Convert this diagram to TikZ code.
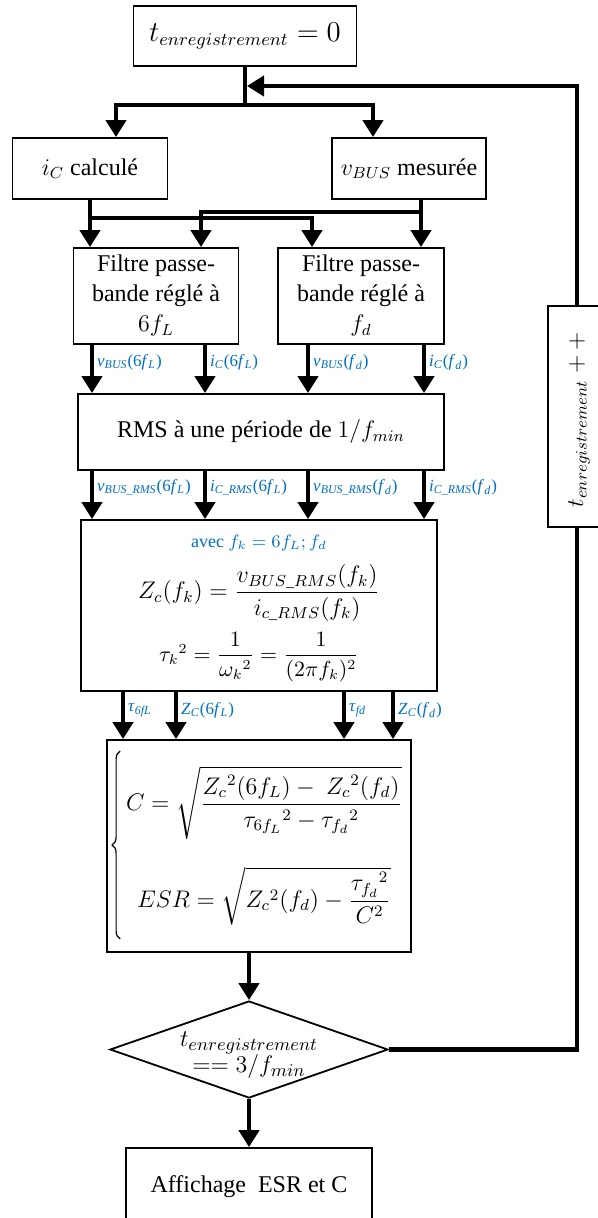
\documentclass[tikz,border=0pt]{standalone}
\usepackage{amsmath}
\usepackage{fontspec}
\setmainfont{Liberation Serif}
\usepackage{xcolor}
\definecolor{labelblue}{RGB}{0, 112, 192}
\usepackage{tikz}
\usetikzlibrary{arrows.meta, calc, shapes.geometric, decorations.pathreplacing}
\newcommand{\lsub}[1]{\textsubscript{\textit{#1}}}

\begin{document}
\begin{tikzpicture}[x=0.5pt, y=-0.5pt, >={Triangle[length=8.5pt, width=10pt]},
    box/.style={draw, line width=0.9pt, inner sep=0pt, align=center, font=\fontsize{12}{15}\selectfont},
    flow/.style={line width=2.2pt},
    lbl/.style={anchor=west, inner sep=0pt, xshift=1.5pt, text=labelblue, font=\fontsize{8.5}{10}\selectfont}]
    \clip (0,0) rectangle (598,1218);

    \node[box, minimum width=111.5pt, minimum height=30pt, font=\fontsize{13.5}{15}\selectfont] (start) at (245,36) {$t_{enregistrement} = 0$};
    \node[box, minimum width=77.5pt, minimum height=30.5pt] (ic) at (90,168.5) {$i_C$ calculé};
    \node[box, minimum width=77pt, minimum height=30.5pt] (vbus) at (409,168.5) {$v_{BUS}$ mesurée};
    \node[box, minimum width=82.5pt, minimum height=48pt] (filtL) at (156,296) {Filtre passe-\\bande réglé à\\$6f_L$};
    \node[box, minimum width=83pt, minimum height=48pt] (filtR) at (361,296) {Filtre passe-\\bande réglé à\\$f_d$};
    \node[box, minimum width=183pt, minimum height=38pt] (rms) at (261,432) {RMS à une période de $1/f_{min}$};
    \node[box, minimum width=178pt, minimum height=85.5pt] (zbox) at (259,605.5) {};
    \node[box, minimum width=152pt, minimum height=106pt] (esrbox) at (259,846) {};
    \node[diamond, draw, line width=0.9pt, inner sep=0pt, minimum width=139pt, minimum height=48.5pt] (cond) at (249,1049.5) {};
    \node[box, minimum width=123pt, minimum height=39pt] (final) at (249,1187) {Affichage~ ESR et C};
    \node[box, minimum width=29pt, minimum height=110.5pt] (loop) at (577,416.5) {};

    \node[text=labelblue, font=\fontsize{9}{11}\selectfont] (avec) at (259,543) {avec $f_k = 6f_L; f_d$};
    \node[font=\fontsize{12}{14}\selectfont] (zeq) at (259,593) {$Z_c(f_k) = \dfrac{v_{BUS\_RMS}(f_k)}{i_{c\_RMS}(f_k)}$};
    \node[font=\fontsize{10.5}{12}\selectfont] (taueq) at (259,657) {$\tau_k{}^2 = \dfrac{1}{\omega_k{}^2} = \dfrac{1}{(2\pi f_k)^2}$};
    \node[font=\fontsize{12}{14}\selectfont] (esreq) at (264,846) {$\begin{array}{@{}c@{}}
        C = \sqrt{\dfrac{Z_c{}^2(6f_L) - \ Z_c{}^2(f_d)}{\tau_{6f_L}{}^2 - \tau_{f_d}{}^2}}\\[24pt]
        ESR = \sqrt{Z_c{}^2(f_d) - \dfrac{\tau_{f_d}{}^2}{C^2}}
        \end{array}$};
    \draw[line width=0.6pt, decorate, decoration={brace, amplitude=4pt}]
        ($(esrbox.south west)+(14,-14)$) -- ($(esrbox.north west)+(14,12)$);
    \node[align=center, font=\fontsize{12.5}{13}\selectfont] (condtxt) at (249,1055) {$t_{enregistrement}$\\$== 3/f_{min}$};
    \node[rotate=90, font=\fontsize{12}{14}\selectfont] (looptxt) at (579,420) {$t_{enregistrement}\;{+}\,{+}$};

    \coordinate (junc) at (245,105);
    \coordinate (jin) at (247,86);
    \coordinate (icbus) at (90,218);
    \coordinate (vbusbus) at (421,212);

    \draw[flow] (start.south) -- (junc);
    \draw[flow, ->] (junc) -| ($(ic.north)+(26,0)$);
    \draw[flow, ->] (junc) -| ($(vbus.north)+(-36,0)$);
    \draw[flow, ->] (loop.north) |- (jin);
    \draw[flow, ->] (ic.south) -- (filtL.north -| ic.south);
    \draw[flow, ->] (icbus) -| ($(filtR.north)+(-49,0)$);
    \draw[flow, ->] (vbus.south -| vbusbus) -- (filtR.north -| vbusbus);
    \draw[flow, ->] (vbusbus) -| ($(filtL.north)+(45,0)$);

    \foreach \src/\xx/\txt in {filtL/92/{\textit{v}\lsub{BUS}(6\textit{f}\lsub{L})}, filtL/205/{\textit{i}\lsub{C}(6\textit{f}\lsub{L})},
            filtR/308/{\textit{v}\lsub{BUS}(\textit{f}\lsub{d})}, filtR/424/{\textit{i}\lsub{C}(\textit{f}\lsub{d})}}
        \draw[flow, ->] (\src.south -| \xx,0) -- (rms.north -| \xx,0) node[lbl, pos=0.36] {\txt};
    \foreach \xx/\txt in {92/{\textit{v}\lsub{BUS\_RMS}(6\textit{f}\lsub{L})}, 205/{\textit{i}\lsub{C\_RMS}(6\textit{f}\lsub{L})},
            308/{\textit{v}\lsub{BUS\_RMS}(\textit{f}\lsub{d})}, 424/{\textit{i}\lsub{C\_RMS}(\textit{f}\lsub{d})}}
        \draw[flow, ->] (rms.south -| \xx,0) -- (zbox.north -| \xx,0) node[lbl, pos=0.34] {\txt};
    \foreach \xx/\txt in {123/{\textit{τ}\lsub{6fL}}, 176/{\textit{Z}\lsub{C}(6\textit{f}\lsub{L})},
            344/{\textit{τ}\lsub{fd}}, 393/{\textit{Z}\lsub{C}(\textit{f}\lsub{d})}}
        \draw[flow, ->] (zbox.south -| \xx,0) -- (esrbox.north -| \xx,0) node[lbl, pos=0.39] {\txt};

    \draw[flow, ->] (cond.north |- esrbox.south) -- (cond.north);
    \draw[flow, ->] (cond.south) -- (final.north);
    \draw[flow] (cond.east) -| (loop.south);
\end{tikzpicture}
\end{document}
